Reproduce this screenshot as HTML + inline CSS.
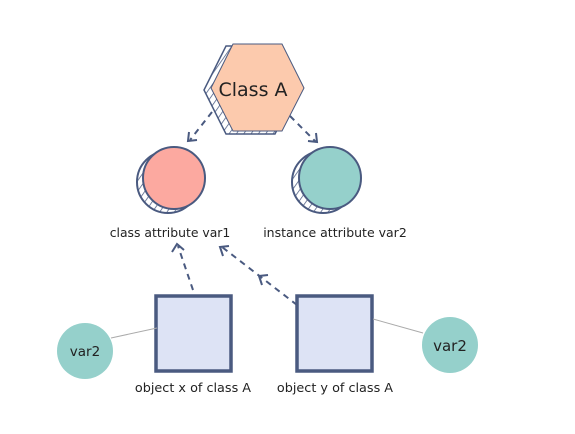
<!DOCTYPE html>
<html><head><style>
body{margin:0;background:#fff;}
svg{display:block;font-family:"DejaVu Sans","Liberation Sans",sans-serif;}
</style></head><body>
<svg width="575" height="434" viewBox="0 0 575 434">
<defs>
<pattern id="h" width="6" height="6" patternUnits="userSpaceOnUse" patternTransform="rotate(35)">
<rect width="6" height="6" fill="#fff"/><line x1="0" y1="0" x2="0" y2="6" stroke="#4a5a80" stroke-width="1.5"/>
</pattern>
</defs>
<polygon points="226,46 275,46 297,90 275,134 226,134 204,90" fill="url(#h)" stroke="#4a5a80" stroke-width="1.5"/>
<polygon points="233,44 282,44 304,88 282,131 233,131 211,88" fill="#fccaad" stroke="#4a5a80" stroke-width="1"/>
<text x="253" y="96" font-size="19" text-anchor="middle" fill="#222">Class A</text>
<g stroke="#4a5a80" stroke-width="2" fill="none" stroke-dasharray="6,5">
<line x1="212" y1="112" x2="190" y2="140"/>
<line x1="290" y1="116" x2="316" y2="142"/>
<line x1="193" y1="290" x2="178" y2="246"/>
<line x1="297" y1="305" x2="222" y2="247"/>
</g>
<g stroke="#4a5a80" stroke-width="2" fill="none">
<polyline points="189,132 188,141 197,140"/>
<polyline points="308,141 317,142 316,133"/>
<polyline points="172,252 177,244 184,250"/>
<polyline points="223,256 220,247 229,246"/>
<polyline points="262,285 259,276 268,275"/>
</g>
<circle cx="168" cy="182" r="31" fill="url(#h)" stroke="#4a5a80" stroke-width="2"/>
<circle cx="174" cy="178" r="31" fill="#fca9a0" stroke="#4a5a80" stroke-width="2"/>
<circle cx="323" cy="182" r="31" fill="url(#h)" stroke="#4a5a80" stroke-width="2"/>
<circle cx="330" cy="178" r="31" fill="#95d0cb" stroke="#4a5a80" stroke-width="2"/>
<text x="170" y="237" font-size="12.4" text-anchor="middle" fill="#222">class attribute var1</text>
<text x="335" y="237" font-size="12.5" text-anchor="middle" fill="#222">instance attribute var2</text>
<rect x="156" y="296" width="75" height="75" fill="#dde3f5" stroke="#4a5a80" stroke-width="3.5"/>
<rect x="297" y="296" width="75" height="75" fill="#dde3f5" stroke="#4a5a80" stroke-width="3.5"/>
<text x="193" y="392" font-size="12.8" text-anchor="middle" fill="#222">object x of class A</text>
<text x="335" y="392" font-size="12.8" text-anchor="middle" fill="#222">object y of class A</text>
<line x1="111" y1="338" x2="157" y2="328" stroke="#aaa" stroke-width="1"/>
<line x1="373" y1="319" x2="423" y2="333" stroke="#aaa" stroke-width="1"/>
<circle cx="85" cy="351" r="28" fill="#95d0cb"/>
<circle cx="450" cy="345" r="28" fill="#95d0cb"/>
<text x="85" y="356" font-size="13.5" text-anchor="middle" fill="#222">var2</text>
<text x="450" y="351" font-size="15" text-anchor="middle" fill="#222">var2</text>
</svg>
</body></html>
